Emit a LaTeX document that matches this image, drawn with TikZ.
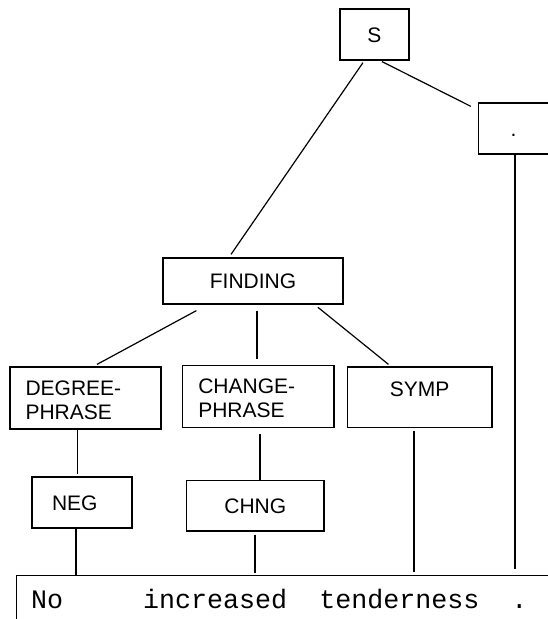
\documentclass[tikz,border=0pt]{standalone}
\usepackage{fontspec}
\usetikzlibrary{calc}
\newfontfamily\labfont{Liberation Sans}
\newfontfamily\monofont{Liberation Mono}
\tikzset{
  box/.style={draw, line width=1.2pt, inner sep=0pt, font=\labfont\fontsize{21}{24}\selectfont},
  capbox/.style={box, text height=15pt, text depth=0pt},
  conn/.style={line width=1.2pt},
}
\begin{document}
\begin{tikzpicture}[x=1pt, y=-1pt]
\useasboundingbox (0,0) rectangle (548,619);
\clip (0,0) rectangle (548,619);
% nodes
\node[capbox, minimum width=69pt, minimum height=51pt] (S) at (374.5,34.5) {S};
\node[capbox, minimum width=70pt, minimum height=51pt] (dot) at (513.5,128.5) {.};
\node[capbox, minimum width=180pt, minimum height=46pt] (find) at (253,281) {FINDING};
\node[box, minimum width=151pt, minimum height=62pt, align=left, text width=120pt, inner xsep=15.5pt] (deg) at (85.5,398) {\rule{0pt}{19pt}DEGREE-\\PHRASE};
\node[box, minimum width=151.3pt, minimum height=61.6pt, align=left, text width=120pt, inner xsep=15.6pt] (chg) at (258.3,396.5) {\rule{0pt}{19pt}CHANGE-\\PHRASE};
\node[box, text height=15pt, text depth=17.6pt, minimum width=144.7pt, minimum height=60.7pt] (symp) at (419.7,397.3) {SYMP};
\node[capbox, minimum height=51pt, align=left, text width=60pt, inner xsep=20pt] (neg) at (82,502.5) {NEG};
\node[capbox, minimum width=137.3pt, minimum height=50.3pt] (chng) at (255.3,505.8) {CHNG};
\node[draw, line width=1.2pt, anchor=north west, minimum width=560pt, minimum height=80pt, inner sep=0pt] (sent) at (16,575) {};
\node[font=\monofont\fontsize{26.67}{30}\selectfont, anchor=base west, inner sep=0pt] (words) at (31,608) {No\ \ \ \ \ increased\ \ tenderness\ \ .};
% connectors
\draw[conn] ($(S.south)+(-11.5,2)$) -- ($(find.north)+(-22,-3)$);
\draw[conn] ($(S.south)+(7.5,1)$) -- ($(dot.north west)+(-7,4)$);
\draw[conn] ($(find.south west)+(34,6)$) -- ($(deg.north)+(11.5,-2)$);
\draw[conn] ($(find.south)+(4,6)$) -- ($(chg.north)+(-1.3,-6.4)$);
\draw[conn] ($(find.south east)+(-25.7,2.7)$) -- ($(symp.north west)+(41.7,-2)$);
\draw[conn] ($(deg.south)+(-7.8,0.5)$) -- ($(neg.north)+(-4.3,-2)$);
\draw[conn] ($(chg.south)+(1.7,6)$) -- ($(chng.north)+(4.7,0)$);
\draw[conn] ($(neg.south)+(-6,0)$) -- ($(sent.north west)+(60,0)$);
\draw[conn] ($(chng.south)+(-0.3,3)$) -- ($(sent.north west)+(239,-2)$);
\draw[conn] ($(symp.south)+(-5.7,2.3)$) -- ($(sent.north west)+(398,-3)$);
\draw[conn] ($(dot.south)+(1.5,0)$) -- ($(sent.north west)+(499,-6)$);
\end{tikzpicture}
\end{document}
